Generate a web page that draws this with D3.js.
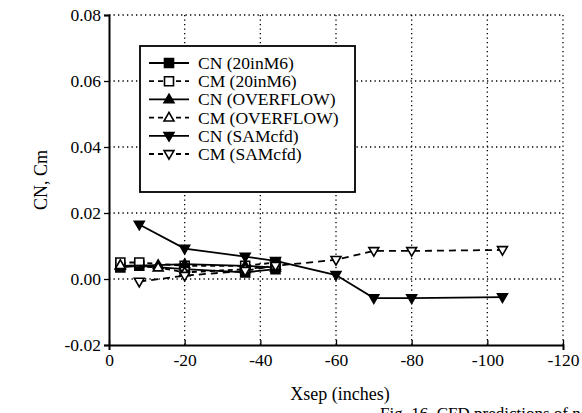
<!DOCTYPE html>
<html><head><meta charset="utf-8">
<script src="https://cdn.jsdelivr.net/npm/d3@7"></script>
<style>body{margin:0;background:#fff}svg{display:block}</style>
</head><body>
<svg id="c" width="582" height="413"></svg>
<script>
// ---- data ----
const xTicks = [0, -20, -40, -60, -80, -100, -120];
const xTickLabels = ["0", "-20", "-40", "-60", "-80", "-100", "-120"];
const yTicks = [-0.02, 0.00, 0.02, 0.04, 0.06, 0.08];
const yTickLabels = ["-0.02", "0.00", "0.02", "0.04", "0.06", "0.08"];

const xsShort = [-3, -8, -20, -36, -44];
const cn20 = [0.0035, 0.0040, 0.0030, 0.0020, 0.0030];
const cm20 = [0.0050, 0.0050, 0.0040, 0.0040, 0.0050];
const xsOver = [-3, -13, -20, -36, -44];
const cnOver = [0.0040, 0.0042, 0.0045, 0.0040, 0.0035];
const cmOver = [0.0042, 0.0035, 0.0020, 0.0030, 0.0040];
const xsSam = [-8, -20, -36, -44, -60, -70, -80, -104];
const cnSam = [0.0165, 0.0092, 0.0068, 0.0055, 0.0012, -0.0058, -0.0058, -0.0055];
const cmSam = [-0.0008, 0.0010, 0.0025, 0.0040, 0.0058, 0.0085, 0.0085, 0.0088];

const seriesNames = ["CN (20inM6)", "CM (20inM6)", "CN (OVERFLOW)", "CM (OVERFLOW)", "CN (SAMcfd)", "CM (SAMcfd)"];

const series = [
  {name: seriesNames[0], xs: xsShort, ys: cn20, dash: null, marker: "square", fill: true},
  {name: seriesNames[1], xs: xsShort, ys: cm20, dash: "5,4", marker: "square", fill: false},
  {name: seriesNames[2], xs: xsOver, ys: cnOver, dash: null, marker: "up", fill: true},
  {name: seriesNames[3], xs: xsOver, ys: cmOver, dash: "5,4", marker: "up", fill: false},
  {name: seriesNames[4], xs: xsSam, ys: cnSam, dash: null, marker: "down", fill: true},
  {name: seriesNames[5], xs: xsSam, ys: cmSam, dash: "7,5", marker: "down", fill: false}
];

// ---- layout ----
const L = 109, R = 563, T = 15, B = 345;
const svg = d3.select("#c");
const x = d3.scaleLinear().domain([0, -120]).range([L, R]);
const y = d3.scaleLinear().domain([-0.02, 0.08]).range([B, T]);
const font = "'Liberation Serif', 'Times New Roman', Times, serif";

// grid
const g = svg.append("g");
g.selectAll(".gx").data(xTicks.slice(1)).enter().append("line")
  .attr("x1", d => x(d)).attr("x2", d => x(d)).attr("y1", T).attr("y2", B)
  .attr("stroke", "#000").attr("stroke-width", 1.3).attr("stroke-dasharray", "1.3,3.2");
g.selectAll(".gy").data(yTicks.slice(1)).enter().append("line")
  .attr("x1", L).attr("x2", R).attr("y1", d => y(d)).attr("y2", d => y(d))
  .attr("stroke", "#000").attr("stroke-width", 1.3).attr("stroke-dasharray", "1.3,3.2");

// axes
const yAxis = d3.axisLeft(y).tickValues(yTicks).tickFormat((d, i) => yTickLabels[i]).tickSize(5).tickPadding(3);
const ya = svg.append("g").attr("transform", `translate(${L},0)`).call(yAxis);
const xAxis = d3.axisBottom(x).tickValues(xTicks).tickFormat((d, i) => xTickLabels[i]).tickSize(5).tickPadding(4);
const xa = svg.append("g").attr("transform", `translate(0,${B})`).call(xAxis);
[ya, xa].forEach(a => {
  a.attr("font-family", null).attr("font-size", null);
  a.select(".domain").attr("stroke", "#000").attr("stroke-width", 2);
  a.selectAll("text").style("font-family", font).style("font-size", "17.5px").attr("fill", "#000");
  a.selectAll("line").attr("stroke", "#000").attr("stroke-width", 1.3);
});
xa.selectAll(".tick line").attr("y2", -5);

// axis titles
svg.append("text").attr("x", 340).attr("y", 400).attr("text-anchor", "middle")
  .style("font-family", font).style("font-size", "18px").text("Xsep (inches)");
svg.append("text").attr("transform", `translate(47,${(T + B) / 2}) rotate(-90)`)
  .attr("text-anchor", "middle").style("font-family", font).style("font-size", "18px").text("CN, Cm");
svg.append("text").attr("x", 380).attr("y", 419)
  .style("font-family", font).style("font-size", "17px").text("Fig. 16.  CFD predictions of normal");

// markers
function markerPath(type, s) {
  if (type === "square") return `M${-s},${-s}H${s}V${s}H${-s}Z`;
  if (type === "up") return `M0,${-s * 1.15}L${s * 1.1},${s * 0.75}L${-s * 1.1},${s * 0.75}Z`;
  return `M0,${s * 1.15}L${s * 1.1},${-s * 0.75}L${-s * 1.1},${-s * 0.75}Z`;
}

const line = d3.line().x(d => x(d[0])).y(d => y(d[1]));
series.forEach(s => {
  const pts = s.xs.map((v, i) => [v, s.ys[i]]);
  svg.append("path").attr("d", line(pts)).attr("fill", "none").attr("stroke", "#000")
    .attr("stroke-width", 1.8).attr("stroke-dasharray", s.dash);
  svg.selectAll(null).data(pts).enter().append("path")
    .attr("transform", d => `translate(${x(d[0])},${y(d[1])})`)
    .attr("d", markerPath(s.marker, 4.5))
    .attr("fill", s.fill ? "#000" : "#fff").attr("stroke", "#000").attr("stroke-width", 1.6);
});

// legend
const lg = svg.append("g");
lg.append("rect").attr("x", 140).attr("y", 46).attr("width", 215).attr("height", 146)
  .attr("fill", "#fff").attr("stroke", "#000").attr("stroke-width", 1.8);
series.forEach((s, i) => {
  const yy = 63 + i * 18.2;
  lg.append("line").attr("x1", 149).attr("x2", 189).attr("y1", yy).attr("y2", yy)
    .attr("stroke", "#000").attr("stroke-width", 1.8).attr("stroke-dasharray", s.dash ? "5,4" : null);
  lg.append("path").attr("transform", `translate(169,${yy})`).attr("d", markerPath(s.marker, 4.5))
    .attr("fill", s.fill ? "#000" : "#fff").attr("stroke", "#000").attr("stroke-width", 1.6);
  lg.append("text").attr("x", 198).attr("y", yy + 6).style("font-family", font)
    .style("font-size", "17.5px").text(s.name);
});
</script>
</body></html>
